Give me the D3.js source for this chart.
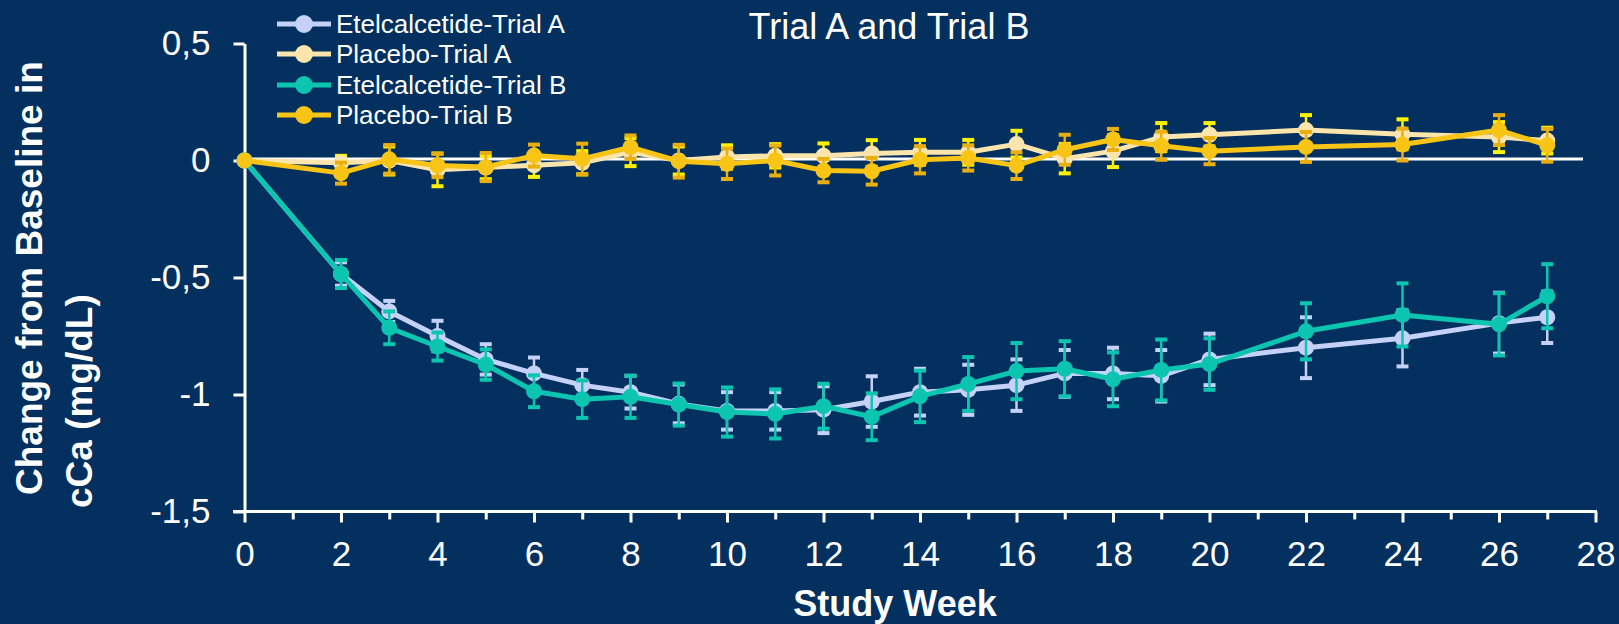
<!DOCTYPE html>
<html>
<head>
<meta charset="utf-8">
<script src="https://cdn.jsdelivr.net/npm/d3@7"></script>
<style>
  html, body { margin: 0; padding: 0; background: #03305F; }
  svg { display: block; }
  text { font-family: "Liberation Sans", Arial, sans-serif; fill: #ffffff; }
</style>
</head>
<body>
<svg id="chart" width="1619" height="624"></svg>
<script>
// Study weeks at which cCa was measured
const weeks = [0, 2, 3, 4, 5, 6, 7, 8, 9, 10, 11, 12, 13, 14, 15, 16, 17, 18, 19, 20, 22, 24, 26, 27];

// Mean change from baseline (mg/dL) and standard errors per arm
const etelA    = [0, -0.485, -0.645, -0.75, -0.85, -0.91, -0.96, -0.99, -1.04, -1.07, -1.07, -1.065, -1.03, -0.99, -0.98, -0.96, -0.91, -0.91, -0.92, -0.85, -0.80, -0.76, -0.695, -0.67];
const etelA_se = [0, 0.05, 0.045, 0.065, 0.065, 0.068, 0.065, 0.07, 0.083, 0.08, 0.08, 0.10, 0.108, 0.10, 0.107, 0.11, 0.10, 0.11, 0.11, 0.11, 0.13, 0.12, 0.13, 0.11];

const placA    = [0, -0.01, 0.0, -0.04, -0.03, -0.02, -0.01, 0.036, 0.0, 0.015, 0.02, 0.02, 0.03, 0.035, 0.035, 0.07, 0.008, 0.04, 0.10, 0.11, 0.13, 0.112, 0.10, 0.085];
const placA_se = [0, 0.03, 0.06, 0.07, 0.05, 0.05, 0.05, 0.06, 0.06, 0.05, 0.05, 0.053, 0.057, 0.053, 0.053, 0.057, 0.063, 0.068, 0.06, 0.05, 0.064, 0.064, 0.064, 0.055];

const etelB    = [0, -0.485, -0.715, -0.795, -0.872, -0.986, -1.02, -1.01, -1.043, -1.075, -1.083, -1.05, -1.095, -1.008, -0.955, -0.90, -0.89, -0.935, -0.895, -0.87, -0.73, -0.66, -0.70, -0.58];
const etelB_se = [0, 0.06, 0.07, 0.06, 0.065, 0.068, 0.08, 0.09, 0.09, 0.105, 0.105, 0.096, 0.10, 0.11, 0.115, 0.12, 0.118, 0.115, 0.13, 0.11, 0.12, 0.135, 0.133, 0.137];

const placB    = [0, -0.054, 0.005, -0.021, -0.028, 0.021, 0.007, 0.057, -0.003, -0.014, 0.0, -0.043, -0.046, 0.003, 0.011, -0.022, 0.046, 0.09, 0.063, 0.04, 0.058, 0.068, 0.13, 0.065];
const placB_se = [0, 0.045, 0.061, 0.05, 0.06, 0.047, 0.065, 0.05, 0.07, 0.065, 0.064, 0.05, 0.057, 0.058, 0.054, 0.057, 0.064, 0.045, 0.06, 0.056, 0.064, 0.068, 0.064, 0.07];

const seriesNames = ["Etelcalcetide-Trial A", "Placebo-Trial A", "Etelcalcetide-Trial B", "Placebo-Trial B"];

// Axis ticks
const yTickValues = [0.5, 0, -0.5, -1, -1.5];
const yTickLabels = ["0,5", "0", "-0,5", "-1", "-1,5"];
const xTickValues = d3.range(0, 29);

const chartTitle = "Trial A and Trial B";
const xTitle = "Study Week";
const yTitleLines = ["Change from Baseline in", "cCa (mg/dL)"];

// Styling per series
const lineColors = ["#C5D1F7", "#FCE5AC", "#0CC5B0", "#F8C416"];
const errColors  = ["#C5D1F7", "#FFF200", "#0CC5B0", "#E9AE10"];

const series = [
  { name: seriesNames[0], mean: etelA, se: etelA_se, color: lineColors[0], err: errColors[0] },
  { name: seriesNames[1], mean: placA, se: placA_se, color: lineColors[1], err: errColors[1] },
  { name: seriesNames[2], mean: etelB, se: etelB_se, color: lineColors[2], err: errColors[2] },
  { name: seriesNames[3], mean: placB, se: placB_se, color: lineColors[3], err: errColors[3] }
];

const svg = d3.select("#chart");

const x = d3.scaleLinear().domain([0, 28]).range([244.5, 1595.5]);
const y = d3.scaleLinear().domain([-1.5, 0.5]).range([511.5, 43.5]);

// Zero reference line
svg.append("line")
  .attr("x1", x(0)).attr("x2", 1583)
  .attr("y1", y(0) - 1.5).attr("y2", y(0) - 1.5)
  .attr("stroke", "#ffffff").attr("stroke-width", 3);

// Y axis
const yAxis = d3.axisLeft(y)
  .tickValues(yTickValues)
  .tickFormat((d, i) => yTickLabels[i])
  .tickSize(11)
  .tickSizeOuter(0)
  .tickPadding(23);
const gy = svg.append("g").attr("transform", `translate(${x(0)},0)`).call(yAxis);
gy.select(".domain").attr("stroke", "#ffffff").attr("stroke-width", 3);
gy.selectAll(".tick line").attr("stroke", "#ffffff").attr("stroke-width", 3);
gy.selectAll(".tick text")
  .attr("fill", "#ffffff")
  .style("font-size", "35px")
  .style("font-family", "'Liberation Sans', Arial, sans-serif");

// X axis
const xAxis = d3.axisBottom(x)
  .tickValues(xTickValues)
  .tickFormat(d => (d % 2 === 0 ? String(d) : ""))
  .tickSize(11)
  .tickSizeOuter(0)
  .tickPadding(19);
const gx = svg.append("g").attr("transform", `translate(0,${y(-1.5)})`).call(xAxis);
gx.select(".domain").remove();
gx.append("line")
  .attr("x1", 233).attr("x2", x(28) + 1.5)
  .attr("y1", 0).attr("y2", 0)
  .attr("stroke", "#ffffff").attr("stroke-width", 3);
gx.selectAll(".tick line")
  .attr("stroke", "#ffffff").attr("stroke-width", 3)
  .attr("y2", d => (d % 2 === 0 ? 11 : 8));
gx.selectAll(".tick text")
  .attr("fill", "#ffffff")
  .style("font-size", "35px")
  .style("font-family", "'Liberation Sans', Arial, sans-serif");

// Series: error bars, line, markers
const line = d3.line().x(d => x(d.w)).y(d => y(d.v));
const capHalf = 6;

series.forEach(s => {
  const pts = weeks.map((w, i) => ({ w, v: s.mean[i], e: s.se[i] }));
  const g = svg.append("g");
  const eb = g.selectAll(".err").data(pts.filter(p => p.e > 0)).enter().append("g");
  eb.append("line")
    .attr("x1", d => x(d.w)).attr("x2", d => x(d.w))
    .attr("y1", d => y(d.v + d.e)).attr("y2", d => y(d.v - d.e))
    .attr("stroke", s.err).attr("stroke-width", 2.5);
  eb.append("line")
    .attr("x1", d => x(d.w) - capHalf).attr("x2", d => x(d.w) + capHalf)
    .attr("y1", d => y(d.v + d.e)).attr("y2", d => y(d.v + d.e))
    .attr("stroke", s.err).attr("stroke-width", 4);
  eb.append("line")
    .attr("x1", d => x(d.w) - capHalf).attr("x2", d => x(d.w) + capHalf)
    .attr("y1", d => y(d.v - d.e)).attr("y2", d => y(d.v - d.e))
    .attr("stroke", s.err).attr("stroke-width", 4);

  g.append("path")
    .datum(pts)
    .attr("d", line)
    .attr("fill", "none")
    .attr("stroke", s.color)
    .attr("stroke-width", 5)
    .attr("stroke-linejoin", "round");

  g.selectAll("circle").data(pts).enter().append("circle")
    .attr("cx", d => x(d.w)).attr("cy", d => y(d.v))
    .attr("r", 8)
    .attr("fill", s.color);
});

// Legend
const legendRows = [24, 54, 85, 115];
const lg = svg.append("g");
series.forEach((s, i) => {
  const row = lg.append("g").attr("transform", `translate(0,${legendRows[i]})`);
  row.append("line").attr("x1", 277).attr("x2", 331).attr("y1", 0).attr("y2", 0)
    .attr("stroke", s.color).attr("stroke-width", 5);
  row.append("circle").attr("cx", 304).attr("cy", 0).attr("r", 9).attr("fill", s.color);
  row.append("text").attr("x", 336).attr("y", 0).attr("dy", "0.36em")
    .style("font-size", "26px").text(s.name);
});

// Title
svg.append("text")
  .attr("x", 889).attr("y", 39)
  .attr("text-anchor", "middle")
  .style("font-size", "36px")
  .text(chartTitle);

// Axis titles
svg.append("text")
  .attr("x", 895).attr("y", 616)
  .attr("text-anchor", "middle")
  .style("font-size", "36px").style("font-weight", "bold")
  .text(xTitle);

// Vertical axis title, two rotated lines
const yTitlePos = [{ bx: 42, by: 495 }, { bx: 92, by: 508 }];
yTitleLines.forEach((t, i) => {
  svg.append("text")
    .attr("transform", `translate(${yTitlePos[i].bx},${yTitlePos[i].by}) rotate(-90)`)
    .attr("text-anchor", "start")
    .style("font-size", "37px").style("font-weight", "bold")
    .text(t);
});
</script>
</body>
</html>
